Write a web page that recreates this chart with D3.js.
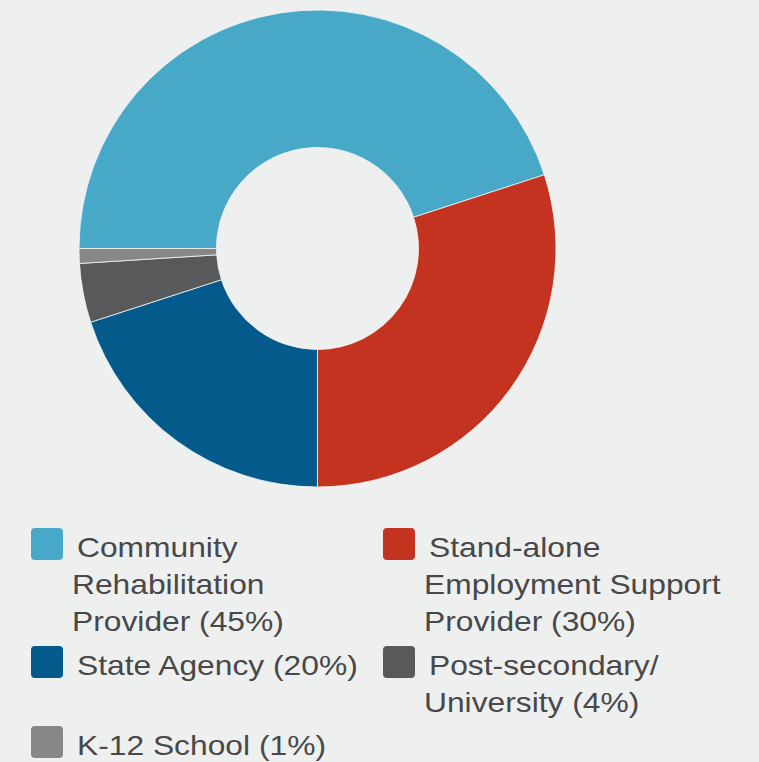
<!DOCTYPE html>
<html>
<head>
<meta charset="utf-8">
<script src="https://cdn.jsdelivr.net/npm/d3@7"></script>
<style>
  html, body { margin: 0; padding: 0; background: #eef0ef; }
  svg { display: block; }
</style>
</head>
<body>
<div id="container"></div>
<script>
// data
let categories = ['Community Rehabilitation Provider', 'Stand-alone Employment Support Provider', 'State Agency', 'Post-secondary/ University', 'K-12 School']
let values = [45, 30, 20, 4, 1]
let colors = ['#48a8c8', '#c4331f', '#035a8b', '#58595b', '#878787']
// legend text, wrapped the way it is in the picture
let legendLines = [
  ['Community', 'Rehabilitation', 'Provider (45%)'],
  ['Stand-alone', 'Employment Support', 'Provider (30%)'],
  ['State Agency (20%)'],
  ['Post-secondary/', 'University (4%)'],
  ['K-12 School (1%)']
]

let width = 759,
  height = 762

let cx = 317.5, cy = 248.5,
  outerR = 238.5, innerR = 101

let svg = d3.select('#container')
  .append('svg')
  .attr('width', width)
  .attr('height', height)

svg.append('rect')
  .attr('width', width)
  .attr('height', height)
  .attr('fill', '#eef0ef')

let pie = d3.pie()
  .sort(null)
  .startAngle(-Math.PI / 2)
  .endAngle(Math.PI * 1.5)

let arc = d3.arc()
  .innerRadius(innerR)
  .outerRadius(outerR)

let donut = svg.append('g')
  .attr('transform', `translate(${cx},${cy})`)

donut.selectAll('path')
  .data(pie(values))
  .join('path')
  .attr('d', arc)
  .attr('fill', (d, i) => colors[i])
  .attr('stroke', '#f4f6f5')
  .attr('stroke-width', 0.8)

// legend: two columns, rows stack under the taller item of the row above
let colX = [31, 383],
  boxSize = 32,
  lineH = 37,
  fontSize = 28,
  stretch = 1.135 // the original type is set wider than Arial

let rowTop = [528, 646, 726]

let legend = svg.append('g')
  .style('font-family', '"Liberation Sans", Arial, sans-serif')
  .style('font-size', fontSize + 'px')
  .attr('fill', '#48484a')

categories.forEach((name, i) => {
  let col = i % 2, row = Math.floor(i / 2)
  let x = colX[col], y = rowTop[row]
  let item = legend.append('g').attr('class', 'item')

  item.append('rect')
    .attr('x', x)
    .attr('y', y)
    .attr('width', boxSize)
    .attr('height', boxSize)
    .attr('rx', 4)
    .attr('fill', colors[i])

  legendLines[i].forEach((t, j) => {
    item.append('text')
      .attr('transform', `translate(${x + (j === 0 ? 46 : 41)},${y + 29 + j * lineH}) scale(${stretch},1)`)
      .text(t)
  })
})
</script>
</body>
</html>
